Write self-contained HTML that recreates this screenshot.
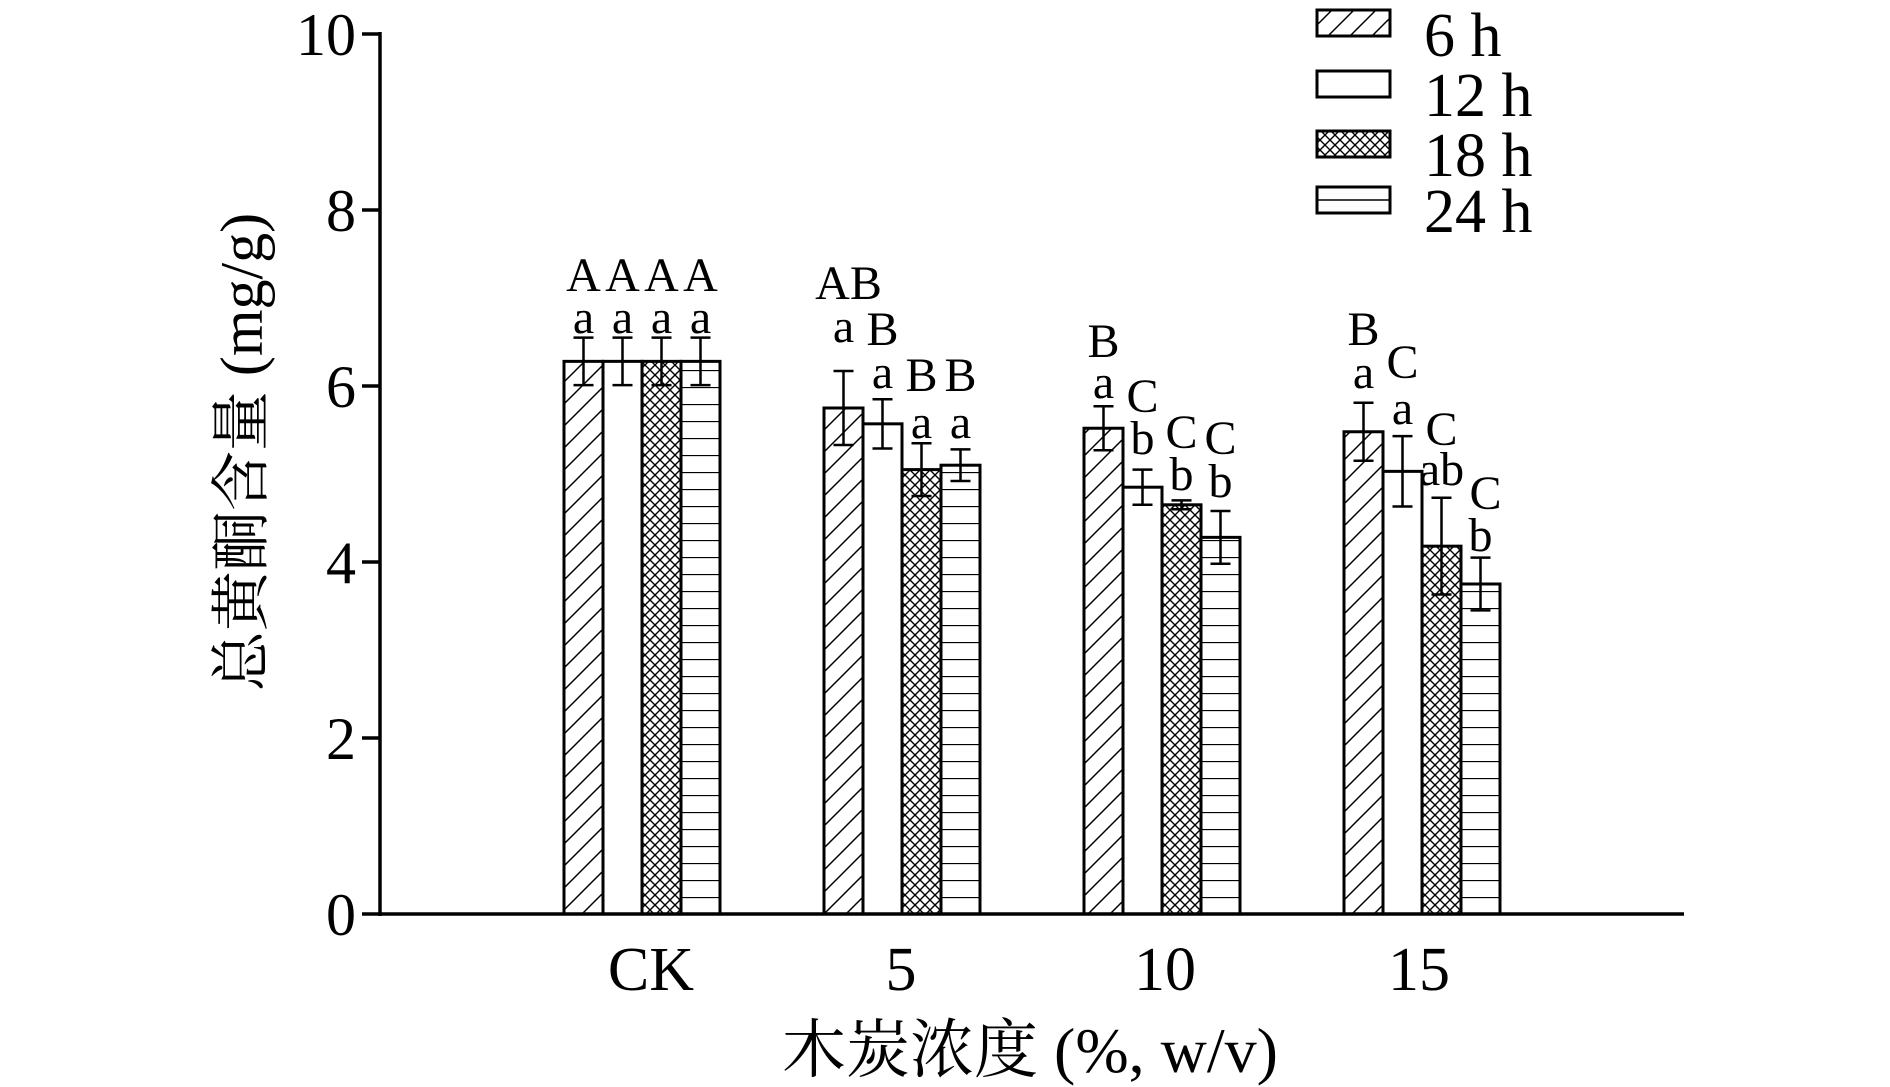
<!DOCTYPE html>
<html><head><meta charset="utf-8"><style>
html,body{margin:0;padding:0;background:#fff}
svg{display:block}
text{font-family:"Liberation Serif","Noto Serif CJK SC",serif;fill:#000}
</style></head><body>
<svg width="1890" height="1087" viewBox="0 0 1890 1087" xmlns="http://www.w3.org/2000/svg">
<defs>
<pattern id="diag" patternUnits="userSpaceOnUse" width="22" height="22">
<path d="M-2,24 L24,-2 M-2,2 L2,-2 M20,24 L24,20" stroke="#000" stroke-width="1.5"/>
</pattern>
<pattern id="cross" patternUnits="userSpaceOnUse" width="10" height="10">
<path d="M0,0 L10,10 M10,0 L0,10" stroke="#000" stroke-width="1.4"/>
</pattern>
<pattern id="horiz" patternUnits="userSpaceOnUse" width="10" height="17" y="914">
<path d="M0,0.5 L10,0.5" stroke="#000" stroke-width="1.3"/>
</pattern>
</defs>
<g id="bars" stroke="#000" stroke-width="3"></g>
<g stroke="#000" stroke-width="3.5" fill="none">
<line x1="380" y1="32" x2="380" y2="916"/>
<line x1="378" y1="914" x2="1684" y2="914"/>
<line x1="362" y1="34" x2="380" y2="34"/>
<line x1="362" y1="210" x2="380" y2="210"/>
<line x1="362" y1="386" x2="380" y2="386"/>
<line x1="362" y1="562" x2="380" y2="562"/>
<line x1="362" y1="738" x2="380" y2="738"/>
<line x1="362" y1="914" x2="380" y2="914"/>
</g>
<g font-size="60" text-anchor="end">
<text x="356" y="55">10</text>
<text x="356" y="231">8</text>
<text x="356" y="407">6</text>
<text x="356" y="583">4</text>
<text x="356" y="759">2</text>
<text x="356" y="935">0</text>
</g>
<g font-size="62" text-anchor="middle">
<text x="651" y="990">CK</text>
<text x="901" y="990">5</text>
<text x="1165" y="990">10</text>
<text x="1419" y="990">15</text>
</g>
<text x="1030" y="1072" font-size="64" text-anchor="middle">木炭浓度 (%, w/v)</text>
<text transform="translate(262,452) rotate(-90)" font-size="60" text-anchor="middle">总黄酮含量 (mg/g)</text>
<g stroke="#000" stroke-width="3">
<rect x="1317" y="10" width="73" height="26" fill="url(#diag)"/>
<rect x="1317" y="71" width="73" height="26" fill="#fff"/>
<rect x="1317" y="131" width="73" height="26" fill="url(#cross)"/>
<rect x="1317" y="187" width="73" height="26" fill="#fff"/>
<line x1="1317" y1="200" x2="1390" y2="200" stroke-width="1.5"/>
</g>
<g font-size="62">
<text x="1424" y="56">6 h</text>
<text x="1424" y="116">12 h</text>
<text x="1424" y="176">18 h</text>
<text x="1424" y="232">24 h</text>
</g>
<g id="labels" font-size="48" text-anchor="middle"></g>
<g id="errs" stroke="#000" stroke-width="2.5"></g>
</svg>
<script>
var starts=[564,824,1084,1344],w=39,fills=["url(#diag)","#fff","url(#cross)","url(#horiz)"];
var v=[[6.28,6.28,6.28,6.28],[5.75,5.57,5.05,5.1],[5.52,4.85,4.65,4.28],[5.48,5.03,4.18,3.75]];
var e=[[0.27,0.27,0.27,0.27],[0.42,0.28,0.3,0.18],[0.25,0.2,0.05,0.3],[0.33,0.4,0.55,0.3]];
var up=[["A","A","A","A"],["AB","B","B","B"],["B","C","C","C"],["B","C","C","C"]];
var lo=[["a","a","a","a"],["a","a","a","a"],["a","b","b","b"],["a","a","ab","b"]];
var uy=[[291,291,291,291],[299,345,391,391],[357,412,448,454],[345,378,445,509]];
var ly=[[333,333,333,333],[342,388,438,438],[398,454,490,497],[388,424,485,551]];
var ux=[[0,0,0,0],[5,0,0,0],[0,0,0,0],[0,0,0,5]];
var Y=function(x){return 914-88*x};
var ns="http://www.w3.org/2000/svg",B=document.getElementById("bars"),E=document.getElementById("errs"),L=document.getElementById("labels");
function el(p,t,a){var n=document.createElementNS(ns,t);for(var k in a)n.setAttribute(k,a[k]);p.appendChild(n);return n;}
for(var g=0;g<4;g++)for(var i=0;i<4;i++){
 var x=starts[g]+i*w,y=Y(v[g][i]);
 el(B,"rect",{x:x,y:y,width:w,height:914-y,fill:fills[i]});
 var cx=x+w/2,t=Y(v[g][i]+e[g][i]),b=Y(v[g][i]-e[g][i]);
 el(E,"line",{x1:cx,y1:t,x2:cx,y2:b});
 el(E,"line",{x1:cx-10,y1:t,x2:cx+10,y2:t});
 el(E,"line",{x1:cx-10,y1:b,x2:cx+10,y2:b});
 var a=el(L,"text",{x:cx,y:ly[g][i]});a.textContent=lo[g][i];
 var u=el(L,"text",{x:cx+ux[g][i],y:uy[g][i]});u.textContent=up[g][i];
}
</script>
</body></html>
